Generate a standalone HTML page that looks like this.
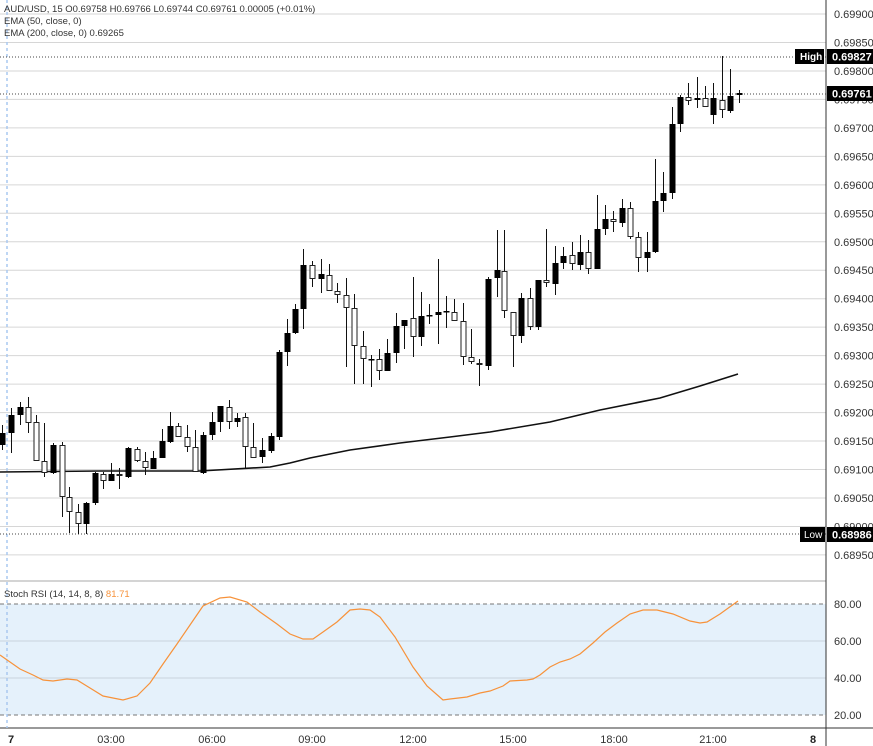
<!DOCTYPE html>
<html><head><meta charset="utf-8"><style>
html,body{margin:0;padding:0;background:#fff;}
svg{display:block;font-family:"Liberation Sans",sans-serif;}
</style></head><body>
<svg id="s" width="873" height="746" xmlns="http://www.w3.org/2000/svg"></svg>
<script>
const s=document.getElementById('s');let h='';
// price grid
const labels=[];
for(let k=0;k<20;k++){const y=14+k*28.47;const p=(0.699-k*0.0005).toFixed(5);
 h+=`<line x1="0" x2="826" y1="${y}" y2="${y}" stroke="#d6d6d6" stroke-width="1"/>`;
 h+=`<text x="834" y="${y+4}" font-size="11" fill="#333">${p}</text>`;}
// RSI pane
h+=`<rect x="0" y="604" width="826" height="111" fill="#e5f1fb"/>`;
h+=`<line x1="0" x2="826" y1="641" y2="641" stroke="#c9d3dc"/><line x1="0" x2="826" y1="678" y2="678" stroke="#c9d3dc"/>`;
h+=`<line x1="0" x2="826" y1="604" y2="604" stroke="#777" stroke-dasharray="4,3"/><line x1="0" x2="826" y1="715" y2="715" stroke="#777" stroke-dasharray="4,3"/>`;
[['80.00',604],['60.00',641],['40.00',678],['20.00',715]].forEach(a=>h+=`<text x="834" y="${a[1]+4}" font-size="11" fill="#333">${a[0]}</text>`);
h+=`<line x1="0" x2="826" y1="581" y2="581" stroke="#aaa"/>`;
h+=`<line x1="0" x2="873" y1="728" y2="728" stroke="#333"/>`;
h+=`<line x1="826" x2="826" y1="0" y2="746" stroke="#333"/>`;
// session line
h+=`<line x1="7" x2="7" y1="0" y2="728" stroke="#a9c8f0" stroke-dasharray="3,3" stroke-width="1.5"/>`;
// dotted lines
h+=`<line x1="0" x2="826" y1="57" y2="57" stroke="#444" stroke-dasharray="1,2"/>`;
h+=`<line x1="0" x2="826" y1="94" y2="94" stroke="#444" stroke-dasharray="1,2"/>`;
h+=`<line x1="0" x2="826" y1="534" y2="534" stroke="#444" stroke-dasharray="1,2"/>`;
// EMA
h+=`<polyline fill="none" stroke="#111" stroke-width="1.6" points="0,472 100,471 200,471 270,467 290,463 310,458 350,450 400,443 450,437 490,432 550,422 600,410 660,398 700,386 738,374"/>`;
// candles [x,wt,wb,bt,bb,filled]
const C=[[2,425,450,433,445,1],[11,408,453,415,433,1],[20,402,425,407,415,1],[28,397,433,407,423,0],[36,415,461,422,461,0],[44,423,477,461,473,0],[53,443,474,445,473,1],[62,442,517,445,497,0],[69,487,533,497,512,0],[78,504,534,512,524,0],[86,502,534,503,524,1],[95,472,505,473,503,1],[103,472,489,474,481,0],[111,463,481,474,481,1],[119,468,489,474,476,0],[128,447,478,448,477,1],[137,447,462,449,461,0],[145,452,475,461,468,0],[153,451,469,458,469,1],[162,429,458,441,458,1],[170,412,443,426,442,1],[178,423,437,426,437,0],[187,425,452,437,447,0],[195,430,472,447,472,0],[203,432,474,435,473,1],[212,412,440,422,435,1],[220,406,432,406,422,1],[229,400,429,407,422,0],[237,413,427,418,422,1],[245,413,468,417,447,0],[253,423,458,447,458,0],[262,438,463,450,457,1],[271,433,453,436,451,1],
[279,350,440,352,437,1],[287,319,366,333,352,1],[295,304,334,309,333,1],[303,249,329,265,309,1],[312,261,287,265,279,0],[321,259,293,274,279,1],[329,264,291,275,291,0],[337,283,303,291,295,0],[346,278,367,295,308,0],[354,294,384,308,346,0],[363,331,384,346,359,0],[371,355,387,359,360,1],[379,349,380,359,371,0],[387,339,371,353,371,1],[396,313,363,326,353,1],[404,320,349,320,326,1],[413,277,357,318,337,0],[421,292,346,316,337,1],[429,304,324,315,316,1],[438,259,344,312,315,1],[446,296,328,311,312,1],[454,299,321,312,321,0],[463,303,365,321,357,0],[471,329,364,357,362,0],[479,359,386,363,365,0],
[488,277,370,279,366,1],[497,230,297,270,278,1],[504,230,318,271,311,0],[513,312,367,312,336,0],[521,293,343,298,336,1],[530,288,330,298,327,0],[538,280,330,280,327,1],[546,229,287,280,283,0],[555,246,295,263,284,1],[563,247,269,256,263,1],[572,242,270,255,264,0],[580,235,270,252,265,1],[588,240,274,252,269,0],[597,195,269,229,269,1],[605,205,235,219,229,1],[613,211,232,219,222,0],[622,199,227,208,223,1],[630,202,239,208,237,0],[638,232,272,237,258,0],[647,232,272,252,258,1],[655,159,253,201,252,1],[663,172,212,193,201,1],[672,107,199,124,193,1],[680,95,132,97,124,1],[688,83,105,97,101,0],[697,77,108,98,100,1],[705,86,107,98,107,0],[713,83,124,98,115,1],[722,56,118,100,110,0],[730,69,113,96,111,1],[739,90,103,93,95,1]];
C.forEach(c=>{const[x,wt,wb,bt,bb,f]=c;
 h+=`<line x1="${x+0.5}" x2="${x+0.5}" y1="${wt}" y2="${wb}" stroke="#111"/>`;
 const hh=Math.max(bb-bt,1.5);
 if(f)h+=`<rect x="${x-2.5}" y="${bt}" width="6" height="${hh}" fill="#000"/>`;
 else h+=`<rect x="${x-2}" y="${bt+0.5}" width="5" height="${Math.max(hh-1,1)}" fill="#fff" stroke="#222" stroke-width="1"/>`;});
// RSI line
h+=`<polyline fill="none" stroke="#f7923a" stroke-width="1.2" points="0,655 20,669 33,675 43,680 53,681 67,679 77,680 90,688 103,696 113,698 123,700 137,696 150,683 163,664 177,644 190,625 203,606 220,598 230,597 247,602 260,612 277,624 290,634 303,639 313,639 323,632 337,622 350,610 360,609 370,610 380,617 395,637 413,667 427,686 443,700 450,699 467,697 480,693 490,691 503,686 510,681 527,680 533,679 540,675 550,667 560,662 570,659 580,654 593,643 605,632 617,623 630,614 643,610 657,610 673,614 690,621 700,623 707,622 720,614 738,601"/>`;
// boxes
h+=`<rect x="795" y="49" width="29" height="15" fill="#000"/><text x="800" y="60" font-size="10" font-weight="bold" fill="#fff">High</text>`;
h+=`<rect x="827" y="49" width="46" height="15" fill="#000"/><text x="832" y="60.5" font-size="11" font-weight="bold" fill="#fff">0.69827</text>`;
h+=`<rect x="827" y="86" width="46" height="15" fill="#000"/><text x="832" y="97.5" font-size="11" font-weight="bold" fill="#fff">0.69761</text>`;
h+=`<rect x="800" y="527" width="25" height="15" fill="#000"/><text x="804" y="538" font-size="10" fill="#fff">Low</text>`;
h+=`<rect x="827" y="527" width="46" height="15" fill="#000"/><text x="832" y="538.5" font-size="11" font-weight="bold" fill="#fff">0.68986</text>`;
// header
h+=`<text x="4" y="12" font-size="9.5" fill="#333">AUD/USD, 15  O0.69758  H0.69766  L0.69744  C0.69761  0.00005 (+0.01%)</text>`;
h+=`<text x="4" y="24" font-size="9.5" fill="#333">EMA (50, close, 0)</text>`;
h+=`<text x="4" y="36" font-size="9.5" fill="#333">EMA (200, close, 0)  0.69265</text>`;
h+=`<text x="4" y="597" font-size="9.5" fill="#333">Stoch RSI (14, 14, 8, 8)  <tspan fill="#f7923a">81.71</tspan></text>`;
// time axis
h+=`<text x="8" y="743" font-size="11" font-weight="bold" fill="#222">7</text>`;
[['03:00',111],['06:00',212],['09:00',312],['12:00',413],['15:00',513],['18:00',614],['21:00',713]].forEach(a=>h+=`<text x="${a[1]}" y="743" font-size="11" fill="#333" text-anchor="middle">${a[0]}</text>`);
h+=`<text x="810" y="743" font-size="11" font-weight="bold" fill="#222">8</text>`;
s.innerHTML=h;
</script>
</body></html>
